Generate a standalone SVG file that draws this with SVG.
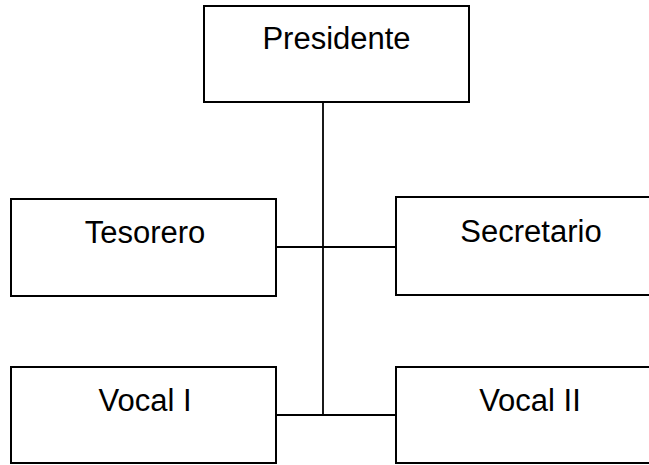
<svg xmlns="http://www.w3.org/2000/svg" width="649" height="465" viewBox="0 0 649 465">
<style>
.box{fill:#fff;stroke:#000;stroke-width:2}
.lbl{font-family:"Liberation Sans",Arial,sans-serif;font-size:31px;fill:#000;text-anchor:middle}
.conn{stroke:#000;stroke-width:1.8;fill:none}
</style>
<rect width="649" height="465" fill="#fff"/>
<g id="connectors">
<line class="conn" x1="323" y1="102" x2="323" y2="415"/>
<line class="conn" x1="276" y1="247" x2="396" y2="247"/>
<line class="conn" x1="276" y1="415" x2="396" y2="415"/>
</g>
<g id="presidente">
<rect class="box" x="204" y="6" width="265" height="96"/>
<text class="lbl" x="336.5" y="49">Presidente</text>
</g>
<g id="tesorero">
<rect class="box" x="11" y="199" width="265" height="97"/>
<text class="lbl" x="145" y="243">Tesorero</text>
</g>
<g id="secretario">
<rect class="box" x="396" y="197" width="270" height="98"/>
<text class="lbl" x="531" y="242">Secretario</text>
</g>
<g id="vocal1">
<rect class="box" x="11" y="367" width="265" height="96"/>
<text class="lbl" x="145" y="411">Vocal I</text>
</g>
<g id="vocal2">
<rect class="box" x="396" y="367" width="270" height="96"/>
<text class="lbl" x="530" y="411">Vocal II</text>
</g>
</svg>
